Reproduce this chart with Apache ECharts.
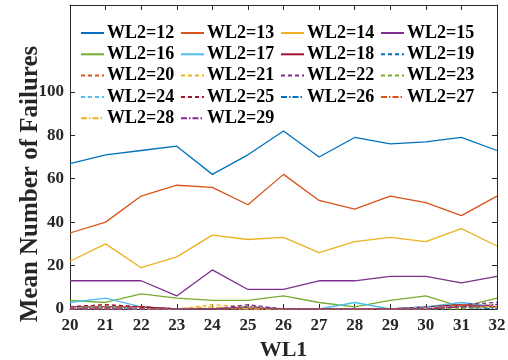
<!DOCTYPE html>
<html>
<head>
<meta charset="utf-8">
<script src="https://cdn.jsdelivr.net/npm/echarts@6/dist/echarts.min.js"></script>
<style>
  html, body { margin: 0; padding: 0; background: #fff; }
  #chart { width: 508px; height: 360px; }
</style>
</head>
<body>
<div id="chart"></div>
<script>
// WL1 values along the horizontal axis
const wl1 = [20, 21, 22, 23, 24, 25, 26, 27, 28, 29, 30, 31, 32];
const yTicks = [0, 20, 40, 60, 80, 100];

// Mean number of failures for each WL2 setting
const wl2_12 = [67, 71, 73, 75, 62, 71, 82, 70, 79, 76, 77, 79, 73];
const wl2_13 = [35, 40, 52, 57, 56, 48, 62, 50, 46, 52, 49, 43, 52];
const wl2_14 = [22, 30, 19, 24, 34, 32, 33, 26, 31, 33, 31, 37, 29];
const wl2_15 = [13, 13, 13, 6, 18, 9, 9, 13, 13, 15, 15, 12, 15];
const wl2_16 = [4, 3, 7, 5, 4, 4, 6, 3, 1, 4, 6, 1, 5];
const wl2_17 = [3, 5, 1, 0, 0, 1, 0, 0, 3, 0, 1, 3, 1];
const wl2_18 = [1, 1, 1, 0, 0, 0, 0, 0, 0, 0, 1, 2, 1];
const wl2_19 = [0, 1, 0, 0, 0, 1, 0, 0, 0, 0, 0, 1, 1];
const wl2_20 = [1, 2, 1, 0, 0, 1, 0, 0, 0, 0, 0, 1, 2];
const wl2_21 = [0, 1, 0, 0, 2, 1, 0, 0, 0, 0, 0, 1, 1];
const wl2_22 = [0, 0, 0, 0, 0, 2, 0, 0, 0, 0, 0, 2, 3];
const wl2_23 = [1, 1, 0, 0, 0, 0, 0, 0, 0, 0, 0, 0, 1];
const wl2_24 = [1, 1, 0, 0, 0, 0, 0, 0, 0, 0, 1, 1, 1];
const wl2_25 = [1, 2, 1, 0, 0, 0, 0, 0, 0, 0, 0, 1, 1];
const wl2_26 = [0, 1, 0, 0, 0, 0, 0, 0, 0, 0, 0, 1, 0];
const wl2_27 = [0, 1, 0, 0, 0, 0, 0, 0, 0, 0, 0, 2, 1];
const wl2_28 = [0, 0, 0, 0, 1, 0, 0, 0, 0, 0, 0, 1, 1];
const wl2_29 = [0, 0, 0, 0, 0, 1, 0, 0, 0, 0, 0, 1, 2];

const seriesNames = ['WL2=12','WL2=13','WL2=14','WL2=15','WL2=16','WL2=17','WL2=18',
  'WL2=19','WL2=20','WL2=21','WL2=22','WL2=23','WL2=24','WL2=25',
  'WL2=26','WL2=27','WL2=28','WL2=29'];
const seriesValues = [wl2_12, wl2_13, wl2_14, wl2_15, wl2_16, wl2_17, wl2_18,
  wl2_19, wl2_20, wl2_21, wl2_22, wl2_23, wl2_24, wl2_25,
  wl2_26, wl2_27, wl2_28, wl2_29];

const palette = ['#0072BD', '#D95319', '#EDB120', '#7E2F8E', '#77AC30', '#4DBEEE', '#A2142F'];
// solid for the first seven, dashed for the next seven, dash-dot after that
const dashStyles = ['solid', [4, 3], [6, 2, 1.5, 2]];

const font = "'Liberation Serif', 'Times New Roman', serif";
const axisColor = '#262626';

const series = seriesNames.map((name, i) => ({
  name: name,
  type: 'line',
  xAxisIndex: 0,
  yAxisIndex: 0,
  symbol: 'none',
  showSymbol: false,
  data: wl1.map((x, j) => [x, seriesValues[i][j]]),
  lineStyle: {
    color: palette[i % 7],
    width: 1.3,
    type: dashStyles[Math.floor(i / 7)]
  },
  itemStyle: { color: palette[i % 7] },
  emphasis: { disabled: true }
}));

// legend laid out as rows of four entries; only the line sample is shown
const legendRows = [];
for (let r = 0; r * 4 < seriesNames.length; r++) {
  legendRows.push({
    data: seriesNames.slice(r * 4, r * 4 + 4),
    left: 80,
    top: 24 + r * 21.3,
    orient: 'horizontal',
    itemWidth: 23,
    itemHeight: 12,
    itemGap: 5,
    selectedMode: false,
    padding: 0,
    itemStyle: { opacity: 0 },
    textStyle: {
      fontFamily: font,
      fontWeight: 'bold',
      fontSize: 18,
      color: '#000',
      width: 68,
      lineHeight: 18,
      padding: [0, 0, 0, -2]
    }
  });
}

const chart = echarts.init(document.getElementById('chart'), null, { renderer: 'canvas' });

const tickLabel = { fontFamily: font, fontWeight: 'bold', fontSize: 17, color: axisColor };

chart.setOption({
  animation: false,
  backgroundColor: '#fff',
  grid: { left: 70, right: 11, top: 5, bottom: 51, containLabel: false, outerBoundsMode: 'none' },
  legend: legendRows,
  xAxis: [
    {
      type: 'value', position: 'bottom', min: 20, max: 32, interval: 1,
      axisLine: { show: true, onZero: false, lineStyle: { color: axisColor, width: 1 } },
      axisTick: { show: true, inside: true, length: 5, lineStyle: { color: axisColor } },
      axisLabel: Object.assign({ margin: 8 }, tickLabel),
      splitLine: { show: false },
      name: 'WL1', nameLocation: 'middle', nameGap: 25,
      nameTextStyle: { fontFamily: font, fontWeight: 'bold', fontSize: 22, color: axisColor }
    },
    {
      type: 'value', position: 'top', min: 20, max: 32, interval: 1,
      axisLine: { show: true, onZero: false, lineStyle: { color: axisColor, width: 1 } },
      axisTick: { show: true, inside: true, length: 5, lineStyle: { color: axisColor } },
      axisLabel: { show: false },
      splitLine: { show: false }
    }
  ],
  yAxis: [
    {
      type: 'value', position: 'left', min: 0, max: 140, interval: 20,
      axisLine: { show: true, onZero: false, lineStyle: { color: axisColor, width: 1 } },
      axisTick: { show: true, inside: true, length: 5, customValues: yTicks, lineStyle: { color: axisColor } },
      axisLabel: Object.assign({ margin: 6, customValues: yTicks }, tickLabel),
      splitLine: { show: false }
    },
    {
      type: 'value', position: 'right', min: 0, max: 140, interval: 20,
      axisLine: { show: true, onZero: false, lineStyle: { color: axisColor, width: 1 } },
      axisTick: { show: true, inside: true, length: 5, customValues: yTicks, lineStyle: { color: axisColor } },
      axisLabel: { show: false },
      splitLine: { show: false }
    }
  ],
  graphic: [
    {
      type: 'text',
      x: 31, y: 184,
      rotation: Math.PI / 2,
      style: {
        text: 'Mean Number of Failures',
        font: "bold 25px 'Liberation Serif', 'Times New Roman', serif",
        fill: axisColor,
        align: 'center',
        verticalAlign: 'middle'
      }
    }
  ],
  series: series
});
</script>
</body>
</html>
